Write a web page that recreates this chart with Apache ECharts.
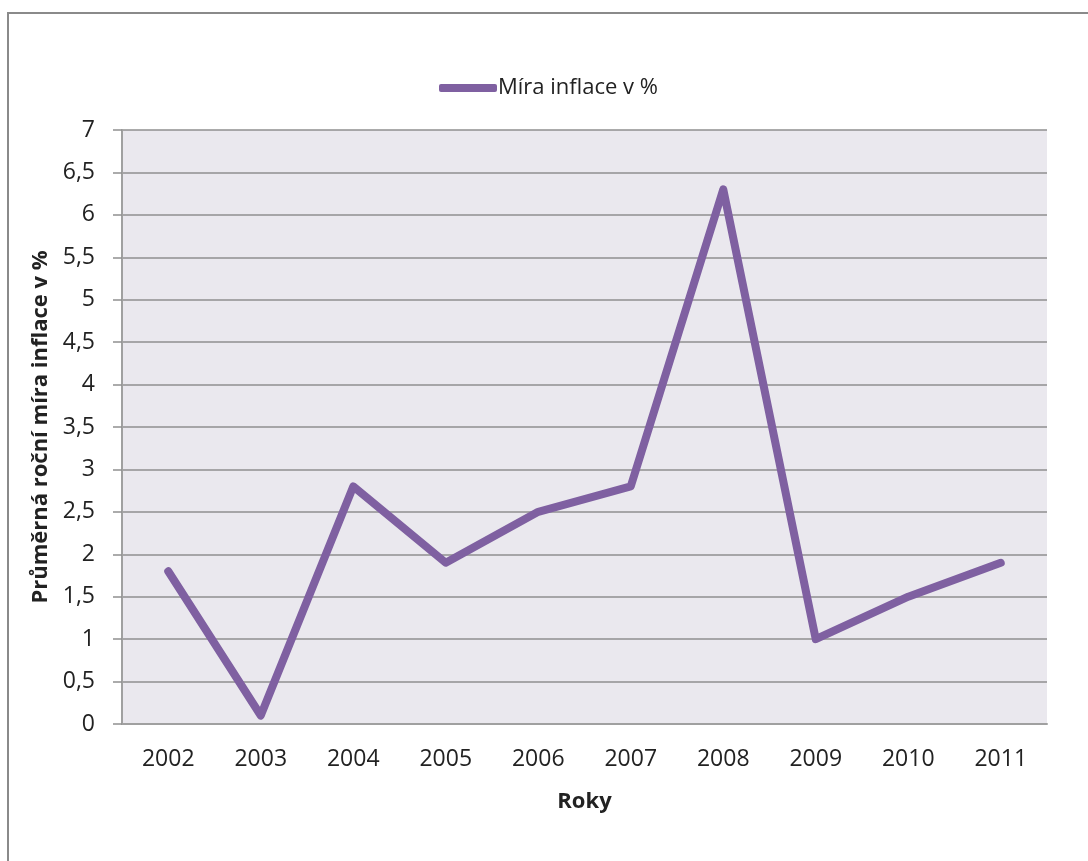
<!DOCTYPE html>
<html>
<head>
<meta charset="utf-8">
<script src="https://cdn.jsdelivr.net/npm/echarts@6/dist/echarts.min.js"></script>
<style>
  html, body { margin: 0; padding: 0; background: #ffffff; }
  #chart { width: 1088px; height: 861px; }
</style>
</head>
<body>
<div id="chart"></div>
<script>
// Average annual inflation rate by year
const years = ['2002', '2003', '2004', '2005', '2006', '2007', '2008', '2009', '2010', '2011'];
const inflation = [1.8, 0.1, 2.8, 1.9, 2.5, 2.8, 6.3, 1.0, 1.5, 1.9];
const seriesName = 'Míra inflace v %';
const yAxisTitle = 'Průměrná roční míra inflace v %';
const xAxisTitle = 'Roky';

const FONT = '"Open Sans", "Liberation Sans", sans-serif';
const LINE_COLOR = '#7F60A1';

const chart = echarts.init(document.getElementById('chart'), null, { renderer: 'canvas' });

chart.setOption({
  animation: false,
  backgroundColor: '#ffffff',
  textStyle: { fontFamily: FONT },
  graphic: [{
    type: 'rect',
    z: -10,
    shape: { x: 8, y: 13, width: 2000, height: 2000 },
    style: { fill: 'none', stroke: '#8a8a8a', lineWidth: 2 }
  }],
  legend: {
    top: 72,
    left: 434,
    itemWidth: 58,
    itemHeight: 8,
    itemGap: 10,
    icon: 'roundRect',
    textStyle: { fontFamily: FONT, fontSize: 22, color: '#222222', padding: [0, 0, 0, -4] },
    data: [{ name: seriesName, icon: 'roundRect' }]
  },
  grid: {
    left: 122,
    top: 130,
    right: 41,
    bottom: 137,
    show: true,
    backgroundColor: '#EAE8EE',
    borderWidth: 0,
    containLabel: false
  },
  xAxis: {
    type: 'category',
    data: years,
    boundaryGap: true,
    name: xAxisTitle,
    nameLocation: 'middle',
    nameGap: 67,
    nameTextStyle: { fontFamily: FONT, fontSize: 22, fontWeight: 'bold', color: '#222222' },
    axisLine: { show: true, lineStyle: { color: '#a0a0a0', width: 2 } },
    axisTick: { show: false },
    axisLabel: { fontFamily: FONT, fontSize: 23, color: '#222222', margin: 24 },
    splitLine: { show: false }
  },
  yAxis: {
    type: 'value',
    min: 0,
    max: 7,
    interval: 0.5,
    name: yAxisTitle,
    nameLocation: 'middle',
    nameGap: 68,
    nameRotate: 90,
    nameTextStyle: { fontFamily: FONT, fontSize: 22, fontWeight: 'bold', color: '#222222' },
    axisLine: { show: true, lineStyle: { color: '#a0a0a0', width: 2 } },
    axisTick: { show: true, inside: false, length: 9, lineStyle: { color: '#909090', width: 1.5 } },
    axisLabel: {
      fontFamily: FONT, fontSize: 23, color: '#222222', margin: 27,
      formatter: v => String(v).replace('.', ',')
    },
    splitLine: { show: true, lineStyle: { color: '#8f8f8f', width: 1.5 } }
  },
  series: [{
    name: seriesName,
    type: 'line',
    data: inflation,
    symbol: 'none',
    smooth: false,
    lineStyle: { color: LINE_COLOR, width: 8, cap: 'round', join: 'round' },
    itemStyle: { color: LINE_COLOR }
  }]
});
</script>
</body>
</html>
